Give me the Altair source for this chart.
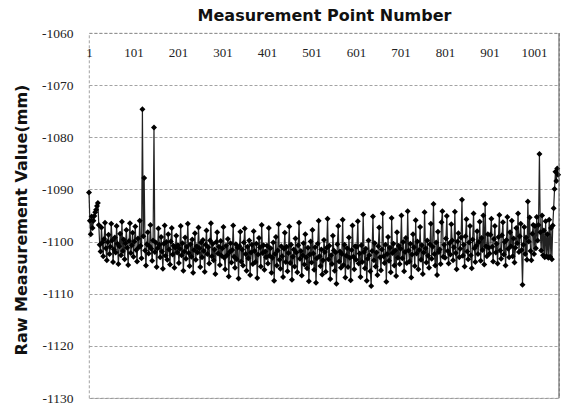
import altair as alt
import pandas as pd

seg_0001_0099 = [
    -1090.6, -1096.0, -1098.6, -1095.2, -1097.4, -1096.0, -1095.1, -1094.4, -1093.9, -1093.2,
    -1092.6, -1096.8, -1100.6, -1101.9, -1097.3, -1100.2, -1102.8, -1099.5, -1096.4, -1101.3,
    -1103.6, -1100.1, -1098.7, -1102.4, -1101.0, -1096.6, -1099.8, -1103.9, -1101.5, -1099.2,
    -1102.1, -1097.0, -1100.4, -1104.3, -1100.9, -1098.5, -1102.6, -1096.2, -1101.8, -1099.6,
    -1103.4, -1100.3, -1097.8, -1101.2, -1104.5, -1099.9, -1096.5, -1102.2, -1100.7, -1098.3,
]
seg_0101_0199 = [
    -1102.9, -1100.0, -1097.1, -1101.6, -1103.8, -1099.4, -1101.1, -1096.0, -1100.8, -1103.2,
    -1074.6, -1099.0, -1087.8, -1101.7, -1104.6, -1100.5, -1098.2, -1102.3, -1100.9, -1096.8,
    -1101.4, -1103.7, -1099.8, -1078.1, -1102.0, -1100.2, -1104.9, -1101.3, -1097.5, -1100.6,
    -1103.0, -1099.1, -1101.9, -1105.2, -1100.4, -1096.9, -1102.7, -1100.1, -1103.5, -1098.6,
    -1101.5, -1104.4, -1100.0, -1097.4, -1102.5, -1100.8, -1105.0, -1101.2, -1098.9, -1102.1,
]
seg_0201_0299 = [
    -1100.7, -1104.1, -1101.4, -1097.0, -1102.6, -1100.3, -1105.6, -1101.9, -1099.2, -1103.3,
    -1101.0, -1096.6, -1102.2, -1104.7, -1100.5, -1102.9, -1099.6, -1106.0, -1101.6, -1098.4,
    -1103.5, -1100.9, -1102.1, -1097.3, -1101.3, -1104.9, -1100.2, -1103.0, -1099.7, -1101.8,
    -1105.8, -1100.6, -1097.9, -1102.4, -1101.1, -1104.2, -1099.8, -1096.5, -1102.8, -1100.4,
    -1103.6, -1101.5, -1106.2, -1100.1, -1098.2, -1102.3, -1101.0, -1104.5, -1099.9, -1102.7,
]
seg_0301_0399 = [
    -1101.3, -1097.2, -1103.1, -1105.3, -1100.8, -1102.6, -1099.5, -1106.7, -1102.0, -1100.3,
    -1104.0, -1101.6, -1096.9, -1102.9, -1105.0, -1100.5, -1103.4, -1101.2, -1107.1, -1100.9,
    -1098.1, -1103.8, -1101.5, -1104.6, -1100.2, -1097.5, -1102.4, -1105.6, -1101.0, -1103.2,
    -1099.8, -1106.4, -1102.1, -1100.6, -1104.3, -1098.0, -1101.8, -1103.9, -1100.4, -1107.0,
    -1102.5, -1099.3, -1101.1, -1104.8, -1096.8, -1102.2, -1100.7, -1105.4, -1101.9, -1103.0,
]
seg_0401_0499 = [
    -1100.8, -1104.2, -1097.4, -1102.7, -1101.3, -1106.0, -1103.1, -1100.2, -1107.5, -1102.4,
    -1099.1, -1104.6, -1101.7, -1096.7, -1103.5, -1105.2, -1100.9, -1102.8, -1106.8, -1101.4,
    -1098.3, -1103.9, -1101.0, -1105.7, -1102.2, -1097.1, -1104.1, -1100.6, -1107.3, -1102.9,
    -1101.5, -1104.8, -1099.4, -1102.1, -1105.9, -1100.7, -1096.4, -1103.3, -1101.8, -1106.5,
    -1102.6, -1100.3, -1104.4, -1098.6, -1103.0, -1105.1, -1101.2, -1107.6, -1102.5, -1100.0,
]
seg_0501_0599 = [
    -1104.0, -1097.8, -1102.3, -1105.4, -1101.1, -1107.9, -1103.2, -1100.4, -1096.0, -1102.8,
    -1104.7, -1101.5, -1106.3, -1103.6, -1099.7, -1102.0, -1105.8, -1101.2, -1095.6, -1103.4,
    -1100.8, -1107.2, -1102.6, -1104.3, -1098.9, -1101.7, -1105.6, -1102.1, -1108.1, -1100.5,
    -1097.0, -1103.8, -1101.9, -1105.0, -1102.4, -1095.8, -1104.5, -1100.6, -1106.9, -1102.7,
    -1101.3, -1104.9, -1099.2, -1103.1, -1107.4, -1101.6, -1096.9, -1102.9, -1105.3, -1100.9,
]
seg_0601_0699 = [
    -1103.5, -1101.0, -1096.1, -1104.2, -1102.3, -1106.8, -1100.7, -1103.9, -1094.8, -1102.0,
    -1105.1, -1101.4, -1107.5, -1103.3, -1099.8, -1102.6, -1105.7, -1108.5, -1101.8, -1095.2,
    -1103.6, -1100.3, -1104.8, -1102.1, -1106.4, -1100.9, -1097.3, -1103.0, -1105.5, -1101.5,
    -1094.6, -1102.8, -1104.1, -1100.6, -1107.7, -1102.4, -1099.1, -1103.7, -1101.2, -1105.9,
    -1095.5, -1102.2, -1100.4, -1104.6, -1101.7, -1106.6, -1098.2, -1103.1, -1100.8, -1104.3,
]
seg_0701_0799 = [
    -1101.4, -1095.0, -1103.2, -1100.1, -1105.7, -1102.0, -1099.3, -1104.1, -1094.2, -1101.7,
    -1103.8, -1100.4, -1106.9, -1102.5, -1098.6, -1101.1, -1104.7, -1095.9, -1102.3, -1100.0,
    -1105.3, -1101.6, -1097.2, -1103.5, -1100.7, -1106.2, -1102.1, -1094.4, -1101.3, -1104.0,
    -1099.8, -1102.7, -1105.0, -1100.5, -1096.6, -1103.3, -1101.0, -1092.8, -1102.4, -1104.6,
    -1100.2, -1106.4, -1098.1, -1102.0, -1101.5, -1104.3, -1096.3, -1094.2, -1102.9, -1100.6,
]
seg_0801_0899 = [
    -1103.1, -1099.4, -1095.1, -1101.8, -1104.2, -1100.3, -1102.5, -1096.7, -1099.8, -1103.6,
    -1101.1, -1094.3, -1102.2, -1105.3, -1100.0, -1098.4, -1103.0, -1101.4, -1099.2, -1092.0,
    -1102.7, -1100.6, -1104.8, -1099.0, -1095.7, -1101.9, -1103.4, -1100.2, -1097.0, -1102.6,
    -1105.1, -1099.6, -1094.6, -1101.3, -1103.9, -1100.8, -1098.0, -1102.4, -1100.1, -1096.2,
    -1103.7, -1099.3, -1101.6, -1095.0, -1104.4, -1092.8, -1100.9, -1102.8, -1098.6, -1101.2,
]
seg_0901_0999 = [
    -1102.3, -1098.7, -1095.6, -1101.0, -1103.8, -1099.5, -1097.0, -1102.1, -1100.4, -1104.2,
    -1099.1, -1094.9, -1101.7, -1103.3, -1098.8, -1096.3, -1102.5, -1100.1, -1104.6, -1099.7,
    -1095.3, -1101.4, -1103.0, -1098.2, -1100.9, -1096.0, -1102.8, -1099.4, -1104.0, -1101.2,
    -1097.4, -1100.3, -1094.6, -1102.0, -1099.0, -1096.6, -1101.6, -1108.3, -1100.6, -1097.2,
    -1102.4, -1099.2, -1103.5, -1092.3, -1100.0, -1095.4, -1101.8, -1103.6, -1098.5, -1096.8,
]
seg_1001_1055 = [
    -1102.4, -1097.0, -1101.3, -1095.3, -1099.8, -1096.8, -1083.2, -1098.2, -1101.7, -1095.0,
    -1102.6, -1097.9, -1103.0, -1096.1, -1102.8, -1098.6, -1103.1, -1095.8, -1102.9, -1097.4,
    -1103.4, -1096.9, -1093.6, -1089.9, -1086.6, -1088.4, -1086.0, -1087.2,
]

x_tick_labels = [1, 101, 201, 301, 401, 501, 601, 701, 801, 901, 1001]
y_tick_values = [-1130, -1120, -1110, -1100, -1090, -1080, -1070, -1060]

values = (seg_0001_0099 + seg_0101_0199 + seg_0201_0299 + seg_0301_0399 + seg_0401_0499
          + seg_0501_0599 + seg_0601_0699 + seg_0701_0799 + seg_0801_0899 + seg_0901_0999
          + seg_1001_1055)
points = list(range(1, 2 * len(values), 2))
df = pd.DataFrame({"point": points, "value": values})

W, H = 470, 365

line = alt.Chart(df).mark_line(
    color="#222222", strokeWidth=1.2,
    point=alt.OverlayMarkDef(shape="diamond", filled=True, size=36, color="#000000"),
).encode(
    x=alt.X(
        "point:Q",
        scale=alt.Scale(domain=[1, 1057], nice=False, zero=False),
        axis=alt.Axis(
            orient="top", values=x_tick_labels, format="d", ticks=False, domain=False, grid=False,
            labelPadding=-19, labelBaseline="middle", labelFlush=False, labelOverlap=False,
            labelFont="Liberation Serif", labelFontSize=13, labelColor="#222222",
            title="Measurement Point Number", titleFont="DejaVu Sans", titleFontSize=16,
            titleFontWeight="bold", titleColor="#111111",
            titleX=W / 2, titleY=-18, titleAlign="center", titleBaseline="middle",
        ),
    ),
    y=alt.Y(
        "value:Q",
        scale=alt.Scale(domain=[-1130, -1060], nice=False, zero=False),
        axis=alt.Axis(
            values=y_tick_values, ticks=False, domain=False, grid=True,
            gridColor="#8c8c8c", gridDash=[3, 2], gridWidth=0.8,
            labelExpr="'-' + format(abs(datum.value), 'd')",
            labelFont="Liberation Serif", labelFontSize=13.5, labelColor="#222222",
            labelPadding=16,
            title="Raw Measurement Value(mm)", titleFont="DejaVu Sans", titleFontSize=16,
            titleFontWeight="bold", titleColor="#111111",
            titleX=-68, titleY=H / 2 + 4, titleAlign="center", titleBaseline="middle",
        ),
    ),
)

right_border = alt.Chart(pd.DataFrame({"edge": [0]})).mark_rule(
    color="#555555", strokeWidth=1
).encode(x=alt.value(W), y=alt.value(0), y2=alt.value(H))

chart = alt.layer(line, right_border).properties(
    width=W, height=H,
    padding={"left": 89, "top": 33, "right": 3, "bottom": 6},
    autosize=alt.AutoSizeParams(type="none"),
    background="white",
).configure_view(
    stroke="#8c8c8c", strokeDash=[3, 2], strokeWidth=0.8,
)

chart.save("out.html", embed_options={"renderer": "svg", "actions": False})
